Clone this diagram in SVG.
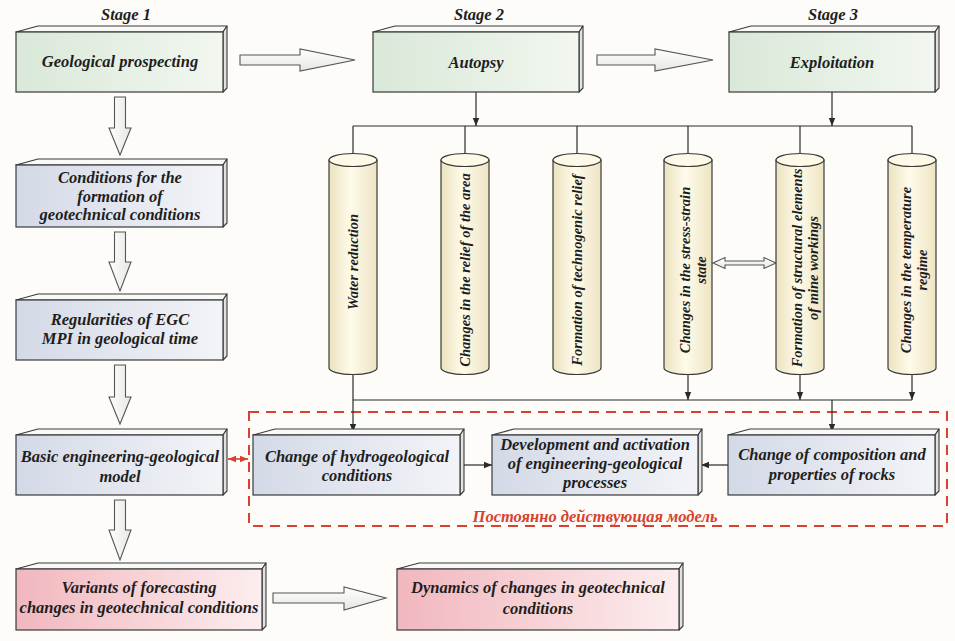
<svg xmlns="http://www.w3.org/2000/svg" width="955" height="641" viewBox="0 0 955 641">
<style>
.top{fill:#f9f9f7;stroke:#3a3a3a;stroke-width:1.1;stroke-linejoin:round}
.side{fill:#e2e2e0;stroke:#3a3a3a;stroke-width:1.1;stroke-linejoin:round}
.fg{fill:url(#gGreen);stroke:#3a3a3a;stroke-width:1.2}
.fb{fill:url(#gBlue);stroke:#3a3a3a;stroke-width:1.2}
.fp{fill:url(#gPink);stroke:#3a3a3a;stroke-width:1.2}
.t{font-family:"Liberation Serif","Times New Roman",serif;font-weight:bold;font-style:italic;font-size:16.5px;fill:#1e1e1e;text-anchor:middle}
.st{font-size:16.5px}
.ct{font-size:14.5px;dominant-baseline:central}
.red{fill:#d8412f;font-size:16.5px}
.cyl{fill:url(#gCyl);stroke:#3a3a3a;stroke-width:1.2}
.cyltop{fill:#fdf9e6;stroke:#3a3a3a;stroke-width:1.2}
.conn{fill:none;stroke:#2a2a2a;stroke-width:1.2}
.hol{fill:url(#gHol);stroke:#555;stroke-width:1.1;stroke-linejoin:miter}
.holv{fill:url(#gHolV);stroke:#555;stroke-width:1.1}
.dash{fill:none;stroke:#d8412f;stroke-width:2;stroke-dasharray:10 7}
.redl{fill:none;stroke:#d8412f;stroke-width:1.6}
</style>
<defs>
<linearGradient id="gGreen" x1="0" y1="0" x2="1" y2="0"><stop offset="0" stop-color="#d9e8d8"/><stop offset="1" stop-color="#f2f7f0"/></linearGradient>
<linearGradient id="gBlue" x1="0" y1="0" x2="1" y2="0"><stop offset="0" stop-color="#d3d9e6"/><stop offset="1" stop-color="#f3f4f8"/></linearGradient>
<linearGradient id="gPink" x1="0" y1="0" x2="1" y2="0"><stop offset="0" stop-color="#f1b7be"/><stop offset="1" stop-color="#fcedee"/></linearGradient>
<linearGradient id="gCyl" x1="0" y1="0" x2="1" y2="0"><stop offset="0" stop-color="#ece2c0"/><stop offset="0.45" stop-color="#fffbea"/><stop offset="1" stop-color="#eee4c4"/></linearGradient>
<linearGradient id="gHol" x1="0" y1="0" x2="0" y2="1"><stop offset="0" stop-color="#ffffff"/><stop offset="1" stop-color="#e6e6e2"/></linearGradient>
<linearGradient id="gHolV" x1="0" y1="0" x2="1" y2="0"><stop offset="0" stop-color="#ffffff"/><stop offset="1" stop-color="#e6e6e2"/></linearGradient>
<marker id="ah" viewBox="0 0 10 10" refX="10" refY="5" markerWidth="8" markerHeight="8" markerUnits="userSpaceOnUse" orient="auto"><path d="M0,1 L10,5 L0,9 Z" fill="#2a2a2a"/></marker>
<marker id="rah" viewBox="0 0 10 10" refX="10" refY="5" markerWidth="8" markerHeight="8" markerUnits="userSpaceOnUse" orient="auto-start-reverse"><path d="M0,1 L10,5 L0,9 Z" fill="#d8412f"/></marker>
</defs>
<rect x="0" y="0" width="955" height="641" fill="#fdfcf8"/>

<g id="stage-labels">
<text class="t st" x="126" y="20">Stage 1</text>
<text class="t st" x="479" y="20">Stage 2</text>
<text class="t st" x="833" y="20">Stage 3</text>
</g>

<g id="permanent-model">
<rect class="dash" x="249" y="412" width="698" height="114"/>
<text class="t red" x="595" y="522">Постоянно действующая модель</text>
</g>

<g id="connectors">
<path class="conn" d="M476,92 V126" marker-end="url(#ah)"/>
<path class="conn" d="M832,92 V126" marker-end="url(#ah)"/>
<path class="conn" d="M353,126 H912"/>
<path class="conn" d="M353,126 V164" marker-end="url(#ah)"/>
<path class="conn" d="M465,126 V164" marker-end="url(#ah)"/>
<path class="conn" d="M577,126 V164" marker-end="url(#ah)"/>
<path class="conn" d="M688,126 V164" marker-end="url(#ah)"/>
<path class="conn" d="M800,126 V164" marker-end="url(#ah)"/>
<path class="conn" d="M912,126 V164" marker-end="url(#ah)"/>
<path class="conn" d="M353,375 V432" marker-end="url(#ah)"/>
<path class="conn" d="M688,375 V400" marker-end="url(#ah)"/>
<path class="conn" d="M800,375 V400" marker-end="url(#ah)"/>
<path class="conn" d="M912,375 V400" marker-end="url(#ah)"/>
<path class="conn" d="M353,400 H912"/>
<path class="conn" d="M832,400 V432" marker-end="url(#ah)"/>
<path class="conn" d="M460,465 H492" marker-end="url(#ah)"/>
<path class="conn" d="M728,465 H701" marker-end="url(#ah)"/>
<path class="redl" d="M228,459 H248" marker-start="url(#rah)" marker-end="url(#rah)"/>
<polygon class="hol" points="240,55 300,55 300,49 355,60 300,71 300,65 240,65"/>
<polygon class="hol" points="597,55 655,55 655,49 713,60 655,71 655,65 597,65"/>
<polygon class="hol" points="273,593 344,593 344,587 386,598 344,610 344,603 273,603"/>
<polygon class="holv" points="114.5,97 125.5,97 125.5,128 131,128 120,155 109,128 114.5,128"/>
<polygon class="holv" points="114.5,232 125.5,232 125.5,262 131,262 120,291 109,262 114.5,262"/>
<polygon class="holv" points="114.5,365 125.5,365 125.5,397 131,397 120,424 109,397 114.5,397"/>
<polygon class="holv" points="114.5,500 125.5,500 125.5,530 131,530 120,560 109,530 114.5,530"/>
<polygon class="hol" points="713,263 725,257.5 725,261 764,261 764,257.5 776,263 764,268.5 764,265 725,265 725,268.5"/>
</g>

<g id="geological-prospecting">
<polygon class="top" points="16,32 38,26 227,26 223,32"/>
<polygon class="side" points="223,32 227,26 227,88 223,92"/>
<rect class="fg" x="16" y="32" width="207" height="60"/>
<text class="t" x="120" y="67">Geological prospecting</text>
</g>

<g id="autopsy">
<polygon class="top" points="373,32 395,26 583,26 579,32"/>
<polygon class="side" points="579,32 583,26 583,88 579,92"/>
<rect class="fg" x="373" y="32" width="206" height="60"/>
<text class="t" x="476" y="68">Autopsy</text>
</g>

<g id="exploitation">
<polygon class="top" points="729,32 751,26 939,26 935,32"/>
<polygon class="side" points="935,32 939,26 939,88 935,92"/>
<rect class="fg" x="729" y="32" width="206" height="60"/>
<text class="t" x="832" y="68">Exploitation</text>
</g>

<g id="formation-conditions">
<polygon class="top" points="16,165 38,159 227,159 223,165"/>
<polygon class="side" points="223,165 227,159 227,223 223,227"/>
<rect class="fb" x="16" y="165" width="207" height="62"/>
<text class="t" x="120" y="183">Conditions for the</text>
<text class="t" x="120" y="202">formation of</text>
<text class="t" x="120" y="220">geotechnical conditions</text>
</g>

<g id="regularities">
<polygon class="top" points="16,300 38,294 227,294 223,300"/>
<polygon class="side" points="223,300 227,294 227,356 223,360"/>
<rect class="fb" x="16" y="300" width="207" height="60"/>
<text class="t" x="120" y="325">Regularities of EGC</text>
<text class="t" x="120" y="344">MPI in geological time</text>
</g>

<g id="basic-model">
<polygon class="top" points="16,435 38,429 227,429 223,435"/>
<polygon class="side" points="223,435 227,429 227,491 223,495"/>
<rect class="fb" x="16" y="435" width="207" height="60"/>
<text class="t" x="120" y="462">Basic engineering-geological</text>
<text class="t" x="120" y="482">model</text>
</g>

<g id="hydrogeological">
<polygon class="top" points="253,435 275,429 464,429 460,435"/>
<polygon class="side" points="460,435 464,429 464,491 460,495"/>
<rect class="fb" x="253" y="435" width="207" height="60"/>
<text class="t" x="357" y="462">Change of hydrogeological</text>
<text class="t" x="357" y="481">conditions</text>
</g>

<g id="development">
<polygon class="top" points="492,435 514,429 702,429 698,435"/>
<polygon class="side" points="698,435 702,429 702,491 698,495"/>
<rect class="fb" x="492" y="435" width="206" height="60"/>
<text class="t" x="595" y="450">Development and activation</text>
<text class="t" x="595" y="469">of engineering-geological</text>
<text class="t" x="595" y="488">processes</text>
</g>

<g id="composition">
<polygon class="top" points="728,435 750,429 939,429 935,435"/>
<polygon class="side" points="935,435 939,429 939,491 935,495"/>
<rect class="fb" x="728" y="435" width="207" height="60"/>
<text class="t" x="832" y="460">Change of composition and</text>
<text class="t" x="832" y="480">properties of rocks</text>
</g>

<g id="variants">
<polygon class="top" points="16,569 38,563 266,563 262,569"/>
<polygon class="side" points="262,569 266,563 266,626 262,630"/>
<rect class="fp" x="16" y="569" width="246" height="61"/>
<text class="t" x="139" y="593">Variants of forecasting</text>
<text class="t" x="139" y="613">changes in geotechnical conditions</text>
</g>

<g id="dynamics">
<polygon class="top" points="397,569 419,563 683,563 679,569"/>
<polygon class="side" points="679,569 683,563 683,626 679,630"/>
<rect class="fp" x="397" y="569" width="282" height="61"/>
<text class="t" x="538" y="593">Dynamics of changes in geotechnical</text>
<text class="t" x="538" y="614">conditions</text>
</g>

<g id="cyl-water">
<path class="cyl" d="M329,160 V368 A24,6.5 0 0 0 377,368 V160 Z"/>
<ellipse class="cyltop" cx="353" cy="160" rx="24" ry="6.5"/>
<text class="t ct" transform="translate(353,262) rotate(-90)">Water reduction</text>
</g>

<g id="cyl-relief">
<path class="cyl" d="M441,160 V368 A24,6.5 0 0 0 489,368 V160 Z"/>
<ellipse class="cyltop" cx="465" cy="160" rx="24" ry="6.5"/>
<text class="t ct" transform="translate(465,270) rotate(-90)">Changes in the relief of the area</text>
</g>

<g id="cyl-technogenic">
<path class="cyl" d="M553,160 V368 A24,6.5 0 0 0 601,368 V160 Z"/>
<ellipse class="cyltop" cx="577" cy="160" rx="24" ry="6.5"/>
<text class="t ct" transform="translate(577,270) rotate(-90)">Formation of technogenic relief</text>
</g>

<g id="cyl-stress">
<path class="cyl" d="M664,160 V368 A24,6.5 0 0 0 712,368 V160 Z"/>
<ellipse class="cyltop" cx="688" cy="160" rx="24" ry="6.5"/>
<text class="t ct" transform="translate(685,270) rotate(-90)">Changes in the stress-strain</text>
<text class="t ct" transform="translate(701,270) rotate(-90)">state</text>
</g>

<g id="cyl-structural">
<path class="cyl" d="M776,160 V368 A24,6.5 0 0 0 824,368 V160 Z"/>
<ellipse class="cyltop" cx="800" cy="160" rx="24" ry="6.5"/>
<text class="t ct" transform="translate(797,268) rotate(-90)">Formation of structural elements</text>
<text class="t ct" transform="translate(813,268) rotate(-90)">of mine workings</text>
</g>

<g id="cyl-temperature">
<path class="cyl" d="M888,160 V368 A24,6.5 0 0 0 936,368 V160 Z"/>
<ellipse class="cyltop" cx="912" cy="160" rx="24" ry="6.5"/>
<text class="t ct" transform="translate(906,270) rotate(-90)">Changes in the temperature</text>
<text class="t ct" transform="translate(922,270) rotate(-90)">regime</text>
</g>
</svg>
